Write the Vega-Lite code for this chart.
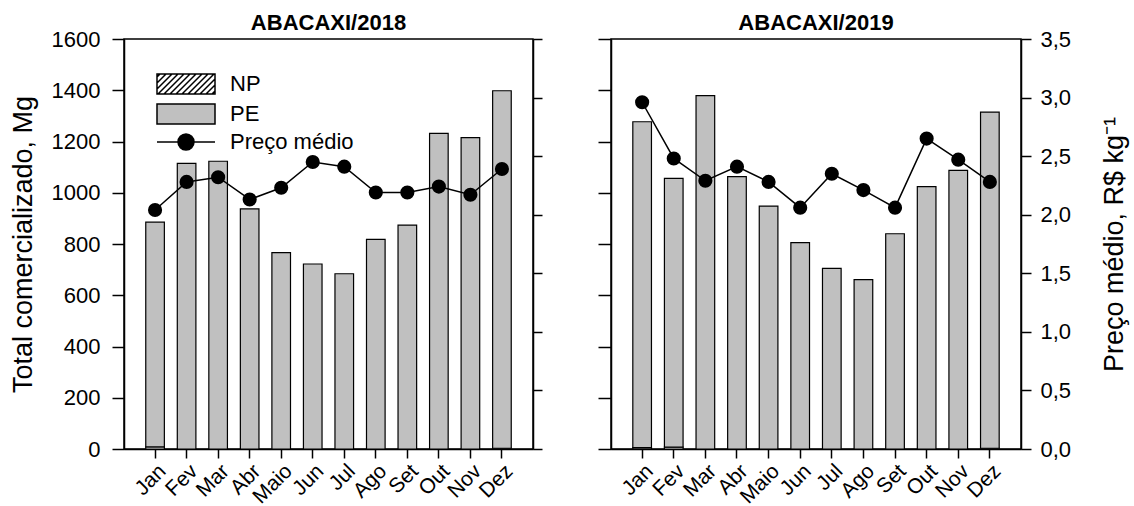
{
  "$schema": "https://vega.github.io/schema/vega-lite/v6.json",
  "padding": {"left": 8, "top": 11, "right": 5, "bottom": 0},
  "background": "white",
  "config": {
    "font": "Liberation Sans",
    "view": {"stroke": "black", "strokeWidth": 1.5},
    "axis": {"domainColor": "black", "domainWidth": 1.5, "tickColor": "black", "tickWidth": 1.5, "labelColor": "black", "titleColor": "black", "grid": false, "labelFont": "Liberation Sans", "titleFont": "Liberation Sans", "titleFontWeight": "normal"},
    "title": {"fontSize": 22, "fontWeight": "bold", "font": "Liberation Sans", "color": "black", "offset": -7}
  },
  "datasets": {
    "vol": [
      {"ano": "2018", "mes": "Jan", "serie": "NP", "valor": 8},
      {"ano": "2018", "mes": "Jan", "serie": "PE", "valor": 877},
      {"ano": "2018", "mes": "Fev", "serie": "PE", "valor": 1115},
      {"ano": "2018", "mes": "Mar", "serie": "PE", "valor": 1123},
      {"ano": "2018", "mes": "Abr", "serie": "PE", "valor": 937},
      {"ano": "2018", "mes": "Maio", "serie": "PE", "valor": 766},
      {"ano": "2018", "mes": "Jun", "serie": "PE", "valor": 722},
      {"ano": "2018", "mes": "Jul", "serie": "PE", "valor": 684},
      {"ano": "2018", "mes": "Ago", "serie": "PE", "valor": 818},
      {"ano": "2018", "mes": "Set", "serie": "PE", "valor": 874},
      {"ano": "2018", "mes": "Out", "serie": "PE", "valor": 1232},
      {"ano": "2018", "mes": "Nov", "serie": "PE", "valor": 1215},
      {"ano": "2018", "mes": "Dez", "serie": "NP", "valor": 3},
      {"ano": "2018", "mes": "Dez", "serie": "PE", "valor": 1395},
      {"ano": "2019", "mes": "Jan", "serie": "NP", "valor": 5},
      {"ano": "2019", "mes": "Jan", "serie": "PE", "valor": 1272},
      {"ano": "2019", "mes": "Fev", "serie": "NP", "valor": 7},
      {"ano": "2019", "mes": "Fev", "serie": "PE", "valor": 1049},
      {"ano": "2019", "mes": "Mar", "serie": "PE", "valor": 1379},
      {"ano": "2019", "mes": "Abr", "serie": "PE", "valor": 1063},
      {"ano": "2019", "mes": "Maio", "serie": "PE", "valor": 948},
      {"ano": "2019", "mes": "Jun", "serie": "PE", "valor": 805},
      {"ano": "2019", "mes": "Jul", "serie": "PE", "valor": 705},
      {"ano": "2019", "mes": "Ago", "serie": "PE", "valor": 661},
      {"ano": "2019", "mes": "Set", "serie": "PE", "valor": 840},
      {"ano": "2019", "mes": "Out", "serie": "PE", "valor": 1024},
      {"ano": "2019", "mes": "Nov", "serie": "PE", "valor": 1087},
      {"ano": "2019", "mes": "Dez", "serie": "NP", "valor": 3},
      {"ano": "2019", "mes": "Dez", "serie": "PE", "valor": 1312}
    ],
    "preco": [
      {"ano": "2018", "mes": "Jan", "preco": 2.04},
      {"ano": "2018", "mes": "Fev", "preco": 2.28},
      {"ano": "2018", "mes": "Mar", "preco": 2.32},
      {"ano": "2018", "mes": "Abr", "preco": 2.13},
      {"ano": "2018", "mes": "Maio", "preco": 2.23},
      {"ano": "2018", "mes": "Jun", "preco": 2.45},
      {"ano": "2018", "mes": "Jul", "preco": 2.41},
      {"ano": "2018", "mes": "Ago", "preco": 2.19},
      {"ano": "2018", "mes": "Set", "preco": 2.19},
      {"ano": "2018", "mes": "Out", "preco": 2.24},
      {"ano": "2018", "mes": "Nov", "preco": 2.17},
      {"ano": "2018", "mes": "Dez", "preco": 2.39},
      {"ano": "2019", "mes": "Jan", "preco": 2.96},
      {"ano": "2019", "mes": "Fev", "preco": 2.48},
      {"ano": "2019", "mes": "Mar", "preco": 2.29},
      {"ano": "2019", "mes": "Abr", "preco": 2.41},
      {"ano": "2019", "mes": "Maio", "preco": 2.28},
      {"ano": "2019", "mes": "Jun", "preco": 2.06},
      {"ano": "2019", "mes": "Jul", "preco": 2.35},
      {"ano": "2019", "mes": "Ago", "preco": 2.21},
      {"ano": "2019", "mes": "Set", "preco": 2.06},
      {"ano": "2019", "mes": "Out", "preco": 2.65},
      {"ano": "2019", "mes": "Nov", "preco": 2.47},
      {"ano": "2019", "mes": "Dez", "preco": 2.28}
    ]
  },
  "spacing": 52,
  "resolve": {"scale": {"fill": "independent"}, "legend": {"fill": "independent"}},
  "hconcat": [
    {
      "title": {"text": "ABACAXI/2018"},
      "width": 409,
      "height": 410,
      "layer": [
        {
          "data": {"name": "vol"},
          "transform": [{"filter": "datum.ano == '2018'"}],
          "mark": {"type": "bar", "stroke": "black", "strokeWidth": 1.2},
          "encoding": {
            "x": {"field": "mes", "type": "nominal", "sort": ["Jan","Fev","Mar","Abr","Maio","Jun","Jul","Ago","Set","Out","Nov","Dez"], "scale": {"paddingInner": 0.41, "paddingOuter": 0.69}, "axis": {"title": null, "labelAngle": -45, "labelFontSize": 21, "tickSize": 9, "labelPadding": 2}},
            "y": {"field": "valor", "type": "quantitative", "stack": "zero", "scale": {"domain": [0, 1600], "nice": false}, "axis": {"orient": "left", "title": "Total comercializado, Mg", "format": "d", "values": [0,200,400,600,800,1000,1200,1400,1600], "tickSize": 12, "labelFontSize": 22, "labelPadding": 12, "titleFontSize": 27, "titlePadding": 14}},
            "fill": {"field": "serie", "type": "nominal", "scale": {"domain": ["NP", "PE", "Preço médio"], "range": ["white", "#c0c0c0", "black"]},
              "legend": {"title": null, "orient": "top-left", "offset": 34, "padding": 0, "labelFontSize": 22, "labelFont": "Liberation Sans", "labelColor": "black", "labelOffset": 50, "rowPadding": 4, "symbolSize": 400, "symbolStrokeColor": "black", "symbolStrokeWidth": 1.5, "symbolOpacity": 1, "labelLimit": 300,
                "encode": {"symbols": {"update": {
                  "shape": {"signal": "datum.value === 'NP' ? 'M-1.2,-1H4.6V1H-1.2Z M-1.2,-0.7L-0.9,-1 M-1.2,-0.1L-0.3,-1 M-1.2,0.5L0.3,-1 M-1.1,1L0.9,-1 M-0.5,1L1.5,-1 M0.1,1L2.1,-1 M0.7,1L2.7,-1 M1.3,1L3.3,-1 M1.9,1L3.9,-1 M2.5,1L4.5,-1 M3.1,1L4.6,-0.5 M3.7,1L4.6,0.1 M4.3,1L4.6,0.7' : datum.value === 'PE' ? 'M-1.2,-1H4.6V1H-1.2Z' : 'M-1.2,0H4.6M2.5,0A0.8,0.8 0 1 1 0.9,0A0.8,0.8 0 1 1 2.5,0Z'"},
                  "fill": {"signal": "datum.value === 'NP' ? 'white' : datum.value === 'PE' ? '#c0c0c0' : 'black'"},
                  "stroke": {"signal": "'black'"},
                  "strokeWidth": {"value": 1.5},
                  "strokeOpacity": {"value": 1},
                  "opacity": {"value": 1},
                  "fillOpacity": {"value": 1},
                  "size": {"value": 400}
                }}}}},
            "order": {"field": "serie", "sort": "ascending"}
          }
        },
        {
          "data": {"name": "preco"},
          "transform": [{"filter": "datum.ano == '2018'"}],
          "encoding": {
            "x": {"field": "mes", "type": "nominal", "sort": ["Jan","Fev","Mar","Abr","Maio","Jun","Jul","Ago","Set","Out","Nov","Dez"]},
            "y": {"field": "preco", "type": "quantitative", "scale": {"domain": [0, 3.5], "nice": false}, "axis": {"orient": "right", "labels": false, "title": null, "values": [0,0.5,1,1.5,2,2.5,3,3.5], "tickSize": 9}}
          },
          "layer": [
            {"mark": {"type": "line", "strokeWidth": 1.5, "color": "black"}},
            {"mark": {"type": "point", "filled": true, "size": 200, "opacity": 1, "color": "black"}}
          ]
        }
      ],
      "resolve": {"scale": {"y": "independent"}}
    },
    {
      "title": {"text": "ABACAXI/2019"},
      "width": 410,
      "height": 410,
      "layer": [
        {
          "data": {"name": "vol"},
          "transform": [{"filter": "datum.ano == '2019'"}],
          "mark": {"type": "bar", "stroke": "black", "strokeWidth": 1.2},
          "encoding": {
            "x": {"field": "mes", "type": "nominal", "sort": ["Jan","Fev","Mar","Abr","Maio","Jun","Jul","Ago","Set","Out","Nov","Dez"], "scale": {"paddingInner": 0.41, "paddingOuter": 0.69}, "axis": {"title": null, "labelAngle": -45, "labelFontSize": 21, "tickSize": 9, "labelPadding": 2}},
            "y": {"field": "valor", "type": "quantitative", "stack": "zero", "scale": {"domain": [0, 1600], "nice": false}, "axis": {"orient": "left", "labels": false, "title": null, "values": [0,200,400,600,800,1000,1200,1400,1600], "tickSize": 13}},
            "fill": {"field": "serie", "type": "nominal", "scale": {"domain": ["NP", "PE", "Preço médio"], "range": ["white", "#c0c0c0", "black"]}, "legend": null},
            "order": {"field": "serie", "sort": "ascending"}
          }
        },
        {
          "data": {"name": "preco"},
          "transform": [{"filter": "datum.ano == '2019'"}],
          "encoding": {
            "x": {"field": "mes", "type": "nominal", "sort": ["Jan","Fev","Mar","Abr","Maio","Jun","Jul","Ago","Set","Out","Nov","Dez"]},
            "y": {"field": "preco", "type": "quantitative", "scale": {"domain": [0, 3.5], "nice": false}, "axis": {"orient": "right", "title": "Preço médio, R$ kg⁻¹", "titleAngle": 270, "titleBaseline": "top", "values": [0,0.5,1,1.5,2,2.5,3,3.5], "labelExpr": "replace(format(datum.value, '.1f'), '.', ',')", "tickSize": 10, "labelPadding": 9, "labelFontSize": 22, "titleFontSize": 27, "titlePadding": 31}}
          },
          "layer": [
            {"mark": {"type": "line", "strokeWidth": 1.5, "color": "black"}},
            {"mark": {"type": "point", "filled": true, "size": 200, "opacity": 1, "color": "black"}}
          ]
        }
      ],
      "resolve": {"scale": {"y": "independent"}}
    }
  ]
}
